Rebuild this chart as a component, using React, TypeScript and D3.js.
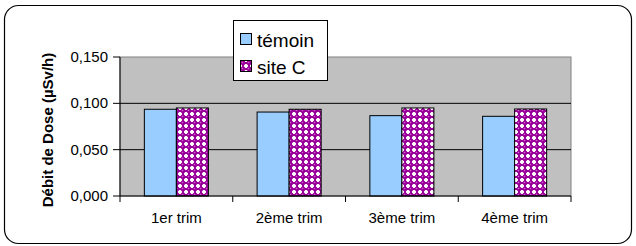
import React from "react";
import * as d3 from "d3";

const categories = ["1er trim", "2ème trim", "3ème trim", "4ème trim"];
const temoin = [0.0936, 0.0906, 0.0867, 0.086];
const siteC = [0.095, 0.0936, 0.095, 0.0939];
const yTicks = [0, 0.05, 0.1, 0.15];
const seriesNames = ["témoin", "site C"];

export default function App() {
  const W = 636, H = 246;
  const left = 120, right = 571, top = 57, bottom = 196;
  const x = d3.scaleBand<string>().domain(categories).range([left, right]).paddingInner(0).paddingOuter(0);
  const y = d3.scaleLinear().domain([0, 0.15]).range([bottom, top]);
  const bw = x.bandwidth();
  const barW = bw * 0.284;
  const gap = (bw - 2 * barW) / 2;
  const fmt = (v: number) => d3.format(".3f")(v).replace(".", ",");
  const font = "Arial, 'Liberation Sans', sans-serif";
  return (
    <svg width={W} height={H} style={{ position: "absolute", left: 0, top: 0 }}>
      <defs>
        <pattern id="dots" width={6} height={6} patternUnits="userSpaceOnUse">
          <rect width={6} height={6} fill="#ffffff" />
          <circle cx={3} cy={3} r={2.4} fill="#990099" />
          <rect x={0} y={2} width={6} height={2} fill="#990099" />
          <rect x={2} y={0} width={2} height={6} fill="#990099" />
          <circle cx={2.5} cy={2.5} r={0.8} fill="#cc66cc" />
        </pattern>
      </defs>
      <rect x={0} y={0} width={W} height={H} fill="#ffffff" />
      <rect x={4.5} y={5.5} width={627} height={238} rx={14} ry={14} fill="#ffffff" stroke="#000000" strokeWidth={1.2} />
      <rect x={left} y={top} width={right - left} height={bottom - top} fill="#c0c0c0" stroke="#808080" strokeWidth={1} />
      {yTicks.filter(t => t > 0 && t < 0.15).map(t => (
        <line key={t} x1={left} x2={right} y1={y(t)} y2={y(t)} stroke="#000000" strokeWidth={1} />
      ))}
      {categories.map((c, i) => {
        const x0 = (x(c) as number) + gap;
        return (
          <g key={c}>
            <rect x={x0} y={y(temoin[i])} width={barW} height={bottom - y(temoin[i])} fill="#99ccff" stroke="#000000" strokeWidth={1} />
            <rect x={x0 + barW} y={y(siteC[i])} width={barW} height={bottom - y(siteC[i])} fill="url(#dots)" stroke="#000000" strokeWidth={1} />
          </g>
        );
      })}
      <line x1={left} x2={left} y1={top} y2={bottom} stroke="#000000" strokeWidth={1} />
      <line x1={left} x2={right} y1={bottom} y2={bottom} stroke="#000000" strokeWidth={1} />
      {yTicks.map(t => (
        <g key={t}>
          <line x1={left - 7} x2={left} y1={y(t)} y2={y(t)} stroke="#000000" />
          <text x={108} y={y(t) + 5} textAnchor="end" fontFamily={font} fontSize={15} fill="#000">{fmt(t)}</text>
        </g>
      ))}
      {[...categories.map(c => x(c) as number), right].map((v, i) => (
        <line key={i} x1={v} x2={v} y1={bottom} y2={bottom + 6} stroke="#000000" />
      ))}
      {categories.map(c => (
        <text key={c} x={(x(c) as number) + bw / 2} y={223} textAnchor="middle" fontFamily={font} fontSize={15} fill="#000">{c}</text>
      ))}
      <text transform={`translate(53, 130) rotate(-90)`} textAnchor="middle" fontFamily={font} fontSize={15} fontWeight="bold" fill="#000">Débit de Dose (µSv/h)</text>
      <g>
        <rect x={233.5} y={20.5} width={94} height={60} fill="#ffffff" stroke="#000000" strokeWidth={1} />
        <rect x={240.5} y={33.5} width={11} height={11} fill="#99ccff" stroke="#000000" />
        <text x={257} y={47} fontFamily={font} fontSize={19} fill="#000">{seriesNames[0]}</text>
        <rect x={240.5} y={60.5} width={11} height={11} fill="url(#dots)" stroke="#000000" />
        <text x={257} y={74} fontFamily={font} fontSize={19} fill="#000">{seriesNames[1]}</text>
      </g>
    </svg>
  );
}
